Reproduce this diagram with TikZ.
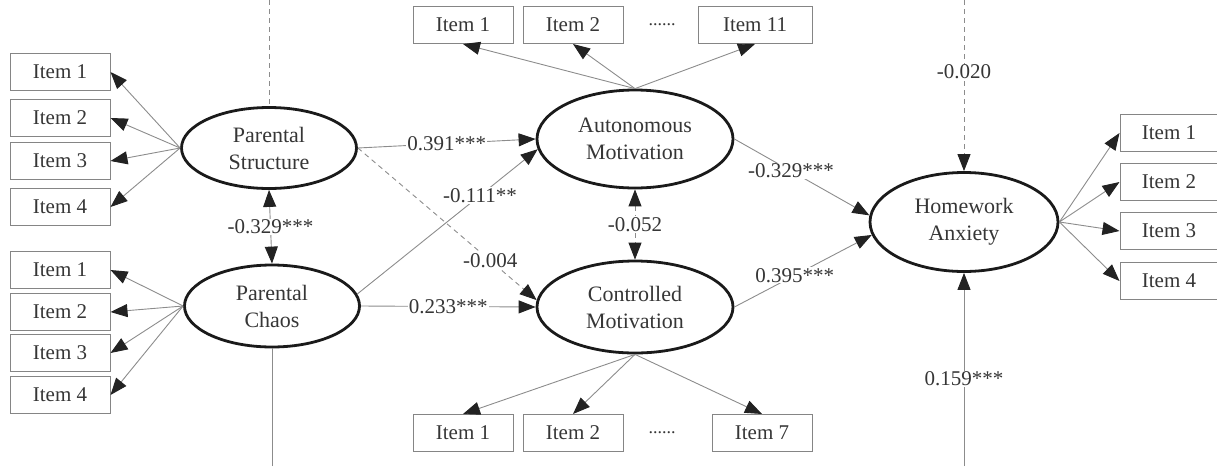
\documentclass[tikz,border=0pt]{standalone}
\usepackage{fontspec}
\setmainfont{Liberation Serif}
\usetikzlibrary{arrows.meta,shapes.geometric,calc}
\definecolor{txt}{HTML}{363636}
\definecolor{ell}{HTML}{1A1A1A}
\definecolor{lin}{HTML}{8C8C8C}
\definecolor{boxc}{HTML}{858585}
\definecolor{tipc}{HTML}{222222}
\begin{document}
\begin{tikzpicture}[x=1pt,y=-1pt,
  font=\fontsize{21}{26}\selectfont, text=txt,
  lat/.style={ellipse,draw=ell,line width=2.8pt,inner sep=0pt,align=center,text=txt,font=\fontsize{22}{27}\selectfont},
  itembox/.style={rectangle,draw=boxc,line width=1pt,minimum width=100pt,minimum height=37pt,inner sep=0pt},
  con/.style={draw=lin,line width=0.9pt,-{Triangle[length=17pt,width=13pt,color=tipc]}},
  bicon/.style={draw=lin,line width=0.9pt,{Triangle[length=17pt,width=13pt,color=tipc]}-{Triangle[length=17pt,width=13pt,color=tipc]}},
  plain/.style={draw=lin,line width=0.9pt},
  dsh/.style={dash pattern=on 5pt off 4pt},
  lab/.style={fill=white,inner sep=1pt,text=txt},
  dots/.style={font=\fontsize{18}{20}\selectfont,text=txt}
]
\useasboundingbox (0,0) rectangle (1217,466);

% latent variables
\node[lat,minimum width=175pt,minimum height=81pt] (PS) at (269,148) {Parental\\Structure};
\node[lat,minimum width=175pt,minimum height=82pt] (PC) at (272,306) {Parental\\Chaos};
\node[lat,minimum width=196pt,minimum height=98pt] (AM) at (635,139) {Autonomous\\Motivation};
\node[lat,minimum width=196pt,minimum height=92pt] (CM) at (635,307) {Controlled\\Motivation};
\node[lat,minimum width=188pt,minimum height=99pt] (HA) at (964,222) {Homework\\Anxiety};

% PS items
\node[itembox] (ps1) at (60,72) {Item 1};
\node[itembox] (ps2) at (60,118) {Item 2};
\node[itembox] (ps3) at (60,161) {Item 3};
\node[itembox] (ps4) at (60,207) {Item 4};
% PC items
\node[itembox] (pc1) at (60,270) {Item 1};
\node[itembox] (pc2) at (60,312) {Item 2};
\node[itembox] (pc3) at (60,353) {Item 3};
\node[itembox] (pc4) at (60,395) {Item 4};
% AM items
\node[itembox] (am1) at (463,25) {Item 1};
\node[itembox] (am2) at (573,25) {Item 2};
\node[dots] (amd) at (662,25) {......};
\node[itembox,minimum width=114pt] (am3) at (755,25) {Item 11};
% CM items
\node[itembox] (cm1) at (463,433) {Item 1};
\node[itembox] (cm2) at (573,433) {Item 2};
\node[dots] (cmd) at (662,433) {......};
\node[itembox] (cm3) at (762,433) {Item 7};
% HA items
\node[itembox,minimum width=98pt] (ha1) at (1169,133) {Item 1};
\node[itembox,minimum width=98pt] (ha2) at (1169,182) {Item 2};
\node[itembox,minimum width=98pt] (ha3) at (1169,231) {Item 3};
\node[itembox,minimum width=98pt] (ha4) at (1169,281) {Item 4};

% free ends at the picture edges
\coordinate (psTop) at (269,0);
\coordinate (pcBot) at (272,466);
\coordinate (haTop) at (964,0);
\coordinate (haBot) at (964,466);

% measurement arrows
\foreach \i in {1,...,4} {
  \draw[con] (PS.west) -- (ps\i.east);
  \draw[con] (PC.west) -- (pc\i.east);
  \draw[con] (HA.east) -- (ha\i.west);
}
\foreach \i in {1,2,3} {
  \draw[con] (AM.north) -- (am\i.south);
  \draw[con] (CM.south) -- (cm\i.north);
}

% structural paths
\draw[con] (PS.east) -- node[lab,pos=0.5] {0.391***} (AM.west);
\draw[con] (PC.8) -- node[lab,pos=0.68] {-0.111**} (AM.186);
\draw[con,dsh] (PS.east) -- node[lab,pos=0.74] {-0.004} (CM.176);
\draw[con] (PC.east) -- node[lab,pos=0.5] {0.233***} (CM.west);
\draw[bicon,dsh] (AM.south) -- node[lab] {-0.052} (CM.north);
\draw[bicon] (PS.south) -- node[lab] {-0.329***} (PC.north);
\draw[con] (AM.east) -- node[lab,pos=0.42] {-0.329***} (HA.176);
\draw[con] (CM.east) -- node[lab,pos=0.44] {0.395***} (HA.188);
\draw[con,dsh] (haTop) -- node[lab,pos=0.42] {-0.020} (HA.north);
\draw[con] (haBot) -- node[lab,pos=0.45] {0.159***} (HA.south);
\draw[plain,dsh] (psTop) -- (PS.north);
\draw[plain] (pcBot) -- (PC.south);
\end{tikzpicture}
\end{document}
